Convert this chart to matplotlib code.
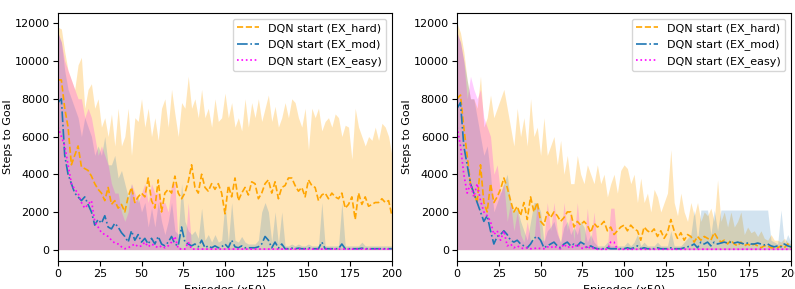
import numpy as np
import matplotlib
matplotlib.use('Agg')
import matplotlib.pyplot as plt

# episodes (x50), one value every 2
episodes = np.arange(0, 201, 2)

# ---- left panel ----
left_hard_mean = [9000, 9000, 7500, 6500, 4500, 5000, 5500, 4400, 4300, 4200,
                  3900, 3500, 3200, 3000, 2600, 3300, 2400, 2600, 2200, 2400,
                  2000, 2800, 3300, 2500, 2800, 3000, 2800, 3800, 2600, 2200,
                  3700, 2000, 3000, 3200, 3000, 3900, 3000, 2700, 3000, 3600,
                  4500, 3300, 3000, 4000, 3300, 3100, 3500, 3200, 3500, 3000,
                  1900, 3400, 2800, 3800, 2600, 3000, 3300, 2900, 3600, 3500,
                  2700, 3000, 3500, 3700, 3000, 3600, 2700, 3300, 3400, 3800,
                  3800, 3400, 3100, 3300, 2800, 3700, 3400, 3300, 2600, 2900,
                  3000, 2700, 3000, 2800, 2700, 3000, 2200, 2400, 2800, 1600,
                  3000, 2400, 2800, 2300, 2400, 2500, 2500, 2700, 2500, 2600,
                  1800]
left_hard_upper = [11800, 11700, 10500, 9500, 9000, 8500, 9800, 10200, 7500, 8500,
                   8800, 7500, 8000, 6500, 7000, 6000, 7200, 5500, 7500, 5500,
                   6000, 7500, 5000, 7000, 6800, 8000, 6500, 7500, 6000, 7000,
                   5800, 7500, 8000, 6500, 8500, 7200, 6000, 7800, 7500, 9200,
                   7500, 8000, 7000, 8500, 7000, 7500, 6500, 8000, 6800, 7000,
                   8300, 7000, 7800, 6500, 7000, 6300, 8000, 6500, 7800, 7000,
                   8000, 6800, 7500, 8200, 6800, 7600, 6500, 7000, 7800, 7000,
                   8000, 7800, 7000, 6500, 7500, 5300, 7500, 7000, 7500, 6300,
                   6800, 7000, 6500, 7200, 7000, 6000, 6600, 6500, 4800, 7500,
                   6500, 6000, 5500, 6000, 5800, 6500, 5800, 6700, 6500, 6000,
                   5000]
left_mod_mean = [7800, 8000, 5000, 4000, 3500, 3000, 2800, 2600, 2800, 2400,
                 2000, 1300, 1600, 1400, 1800, 1200, 1100, 1400, 1200, 900,
                 700, 400, 1000, 500, 800, 400, 600, 300, 600, 300,
                 700, 300, 200, 400, 700, 300, 200, 1200, 400, 300,
                 200, 300, 150, 500, 100, 200, 100, 200, 100, 150,
                 300, 100, 500, 150, 100, 200, 100, 100, 100, 100,
                 150, 300, 700, 500, 100, 400, 80, 300, 50, 50,
                 80, 50, 80, 50, 50, 100, 50, 50, 50, 400,
                 50, 50, 50, 50, 50, 300, 50, 50, 50, 50,
                 50, 80, 50, 50, 50, 50, 50, 50, 50, 50,
                 50]
left_mod_upper = [11500, 11000, 9500, 8500, 8000, 7500, 7000, 6000, 7000, 6500,
                  6000, 5000, 5500, 5000, 6000, 4500, 4500, 5000, 3800, 4200,
                  3500, 2800, 3500, 2500, 2800, 2000, 2500, 1200, 2200, 1200,
                  2500, 1500, 800, 1500, 2500, 1000, 800, 3500, 1500, 1000,
                  800, 1000, 600, 2200, 500, 800, 400, 800, 400, 500,
                  2500, 400, 2500, 500, 400, 700, 400, 300, 300, 300,
                  500, 2000, 2500, 2000, 400, 2000, 300, 2000, 200, 200,
                  300, 200, 300, 200, 200, 300, 200, 200, 200, 2500,
                  200, 200, 200, 200, 200, 2500, 200, 200, 200, 200,
                  200, 400, 200, 200, 200, 200, 200, 200, 200, 200,
                  200]
left_easy_mean = [6500, 6000, 5500, 4500, 3500, 3200, 3000, 2500, 2200, 2400,
                  2600, 1500, 1200, 900, 800, 700, 500, 350, 300, 150,
                  50, 100, 200, 300, 150, 200, 400, 150, 300, 200,
                  100, 200, 100, 200, 400, 700, 50, 30, 30, 400,
                  30, 30, 30, 30, 30, 30, 30, 30, 30, 30,
                  30, 30, 30, 30, 30, 30, 30, 30, 30, 30,
                  30, 30, 30, 30, 30, 30, 30, 30, 30, 30,
                  30, 30, 30, 30, 30, 30, 30, 30, 30, 30,
                  30, 30, 30, 30, 30, 30, 30, 30, 30, 30,
                  30, 30, 30, 30, 30, 30, 30, 30, 30, 30,
                  30]
left_easy_upper = [11500, 11000, 10000, 9500, 9000, 8500, 8000, 8000, 7000, 7500,
                   7000, 6000, 5000, 5500, 5000, 4500, 3500, 3000, 3000, 2000,
                   1500, 2000, 3500, 3000, 2500, 3000, 3500, 2500, 3500, 3000,
                   3000, 2500, 2500, 2000, 3500, 3500, 200, 100, 100, 2500,
                   100, 100, 100, 100, 100, 100, 100, 100, 100, 100,
                   100, 100, 100, 100, 100, 100, 100, 100, 100, 100,
                   100, 100, 100, 100, 100, 100, 100, 100, 100, 100,
                   100, 100, 100, 100, 100, 100, 100, 100, 100, 100,
                   100, 100, 100, 100, 100, 100, 100, 100, 100, 100,
                   100, 100, 100, 100, 100, 100, 100, 100, 100, 100,
                   100]

# ---- right panel ----
right_hard_mean = [8000, 8200, 6500, 5000, 3500, 3000, 2500, 4500, 2500, 2000,
                   3500, 2500, 2800, 3200, 3800, 3300, 2600, 2000, 2300, 1800,
                   2500, 1600, 2800, 2000, 2500, 1500, 1300, 2000, 1700, 2000,
                   1800, 1500, 1700, 2000, 2000, 1200, 1500, 1300, 1500, 1300,
                   900, 1400, 1200, 1300, 1500, 1000, 1200, 800, 1000, 1200,
                   1300, 1000, 1300, 1100, 1000, 500, 1200, 1000, 900, 1100,
                   700, 1000, 600, 900, 1600, 1000, 600, 900, 500, 800,
                   700, 400, 700, 500, 700, 600, 500, 900, 600, 400,
                   500, 300, 500, 300, 200, 400, 200, 300, 200, 300,
                   200, 100, 200, 200, 100, 100, 100, 200, 100, 300,
                   100]
right_hard_upper = [12000, 11500, 10500, 9000, 8000, 8000, 7500, 9200, 6500, 7000,
                    8200, 7000, 7500, 8000, 8500, 7500, 6500, 5500, 7500, 6000,
                    7000, 5500, 8000, 6000, 6500, 5000, 7000, 5000, 5500, 6000,
                    4500, 5800, 4000, 5000, 3500, 3500, 5000, 4000, 3500, 4500,
                    4000, 3500, 4500, 3500, 4000, 2800, 3500, 4000, 3000, 4200,
                    4500, 4300, 3500, 4000, 2500, 3800, 2500, 3000, 2000, 3200,
                    2800, 2000, 2500, 3000, 5300, 2500, 1800, 3000, 2000, 1500,
                    2500, 1800, 2500, 1500, 2000, 1800, 2200, 1500, 3700, 1500,
                    2000, 1200, 2000, 1200, 1500, 2000, 800, 1200, 900, 1000,
                    700, 1000, 600, 500, 800, 500, 500, 400, 600, 400,
                    300]
right_mod_mean = [7500, 7800, 5500, 4500, 3500, 3000, 2500, 2000, 1500, 1800,
                  1000, 300, 700, 800, 1000, 800, 500, 400, 500, 300,
                  200, 100, 300, 600, 700, 500, 100, 200, 300, 400,
                  200, 100, 300, 400, 200, 300, 200, 400, 300, 100,
                  200, 100, 50, 50, 50, 100, 50, 50, 50, 50,
                  50, 100, 50, 100, 200, 50, 100, 50, 50, 50,
                  100, 50, 50, 50, 100, 50, 50, 50, 100, 150,
                  200, 300, 100, 400, 300, 400, 200, 400, 300, 350,
                  400, 350, 400, 350, 400, 350, 300, 350, 300, 300,
                  350, 300, 250, 300, 200, 150, 200, 150, 300, 200,
                  150]
right_mod_upper = [11500, 11000, 10000, 9000, 8000, 8000, 7000, 6000, 5000, 5500,
                   4000, 2000, 2500, 3000, 3500, 4000, 2500, 2000, 2200, 1500,
                   1000, 500, 1500, 2500, 2500, 2000, 400, 1000, 1200, 1500,
                   800, 400, 1200, 1500, 800, 1200, 800, 1500, 1200, 400,
                   800, 400, 200, 200, 200, 400, 200, 200, 200, 200,
                   200, 400, 200, 400, 800, 200, 400, 200, 200, 200,
                   400, 200, 200, 200, 1000, 200, 200, 200, 400, 600,
                   800, 2100, 500, 2100, 2100, 2100, 800, 2100, 1000, 2100,
                   2100, 2100, 2100, 2100, 2100, 2100, 2100, 2100, 2100, 2100,
                   2100, 2100, 2100, 2100, 500, 400, 300, 2100, 300, 800,
                   400]
right_easy_mean = [6500, 5500, 4000, 3000, 3500, 2800, 3500, 2600, 2000, 1800,
                   1500, 800, 1000, 500, 1000, 200, 300, 100, 200, 100,
                   50, 100, 50, 50, 100, 50, 50, 150, 100, 200,
                   100, 50, 300, 100, 200, 100, 300, 100, 50, 200,
                   50, 100, 20, 20, 20, 20, 400, 400, 20, 20,
                   20, 20, 20, 20, 20, 20, 20, 20, 20, 20,
                   20, 20, 20, 20, 20, 20, 20, 20, 20, 20,
                   20, 20, 20, 20, 20, 20, 20, 20, 20, 20,
                   20, 20, 20, 20, 20, 20, 20, 20, 20, 20,
                   20, 20, 20, 20, 20, 20, 20, 20, 20, 20,
                   20]
right_easy_upper = [11500, 11000, 10000, 8000, 9200, 8500, 8000, 8500, 7000, 6500,
                    6000, 4000, 4500, 3000, 3500, 1500, 2500, 1000, 2000, 800,
                    400, 1500, 400, 500, 2500, 500, 500, 2500, 1000, 2500,
                    1000, 300, 2500, 1000, 2000, 500, 2500, 500, 300, 2200,
                    300, 2000, 100, 100, 100, 100, 2200, 2200, 100, 100,
                    100, 100, 100, 100, 100, 100, 100, 100, 100, 100,
                    100, 100, 100, 100, 100, 100, 100, 100, 100, 100,
                    100, 100, 100, 100, 100, 100, 100, 100, 100, 100,
                    100, 100, 100, 100, 100, 100, 100, 100, 100, 100,
                    100, 100, 100, 100, 100, 100, 100, 100, 100, 100,
                    100]

labels = ['DQN start (EX_hard)', 'DQN start (EX_mod)', 'DQN start (EX_easy)']
colors = ['orange', '#1f77b4', 'magenta']
styles = ['--', '-.', ':']
fill_alpha = [0.28, 0.2, 0.2]

panels = [
    ([left_hard_mean, left_mod_mean, left_easy_mean],
     [left_hard_upper, left_mod_upper, left_easy_upper]),
    ([right_hard_mean, right_mod_mean, right_easy_mean],
     [right_hard_upper, right_mod_upper, right_easy_upper]),
]

fig = plt.figure(figsize=(7.95, 2.89), dpi=100)
ax1 = fig.add_axes([0.073, 0.097, 0.420, 0.858])
ax2 = fig.add_axes([0.575, 0.097, 0.420, 0.858])

for ax, (means, uppers) in zip([ax1, ax2], panels):
    for m, u, lab, c, ls, a in zip(means, uppers, labels, colors, styles, fill_alpha):
        ax.plot(episodes, m, ls, color=c, lw=1.2, label=lab)
        ax.fill_between(episodes, 0, u, color=c, alpha=a, lw=0)
    ax.set_xlim(0, 200)
    ax.set_ylim(-600, 12550)
    ax.set_yticks(range(0, 12001, 2000))
    ax.tick_params(labelsize=8, pad=2.5)
    ax.set_xlabel('Episodes (x50)', fontsize=8)
    ax.set_ylabel('Steps to Goal', fontsize=8)
    ax.yaxis.set_label_coords(-0.135, 0.5)
    ax.xaxis.set_label_coords(0.5, -0.095)
    ax.legend(loc='upper right', fontsize=8)

fig.savefig('out.png', dpi=100)
